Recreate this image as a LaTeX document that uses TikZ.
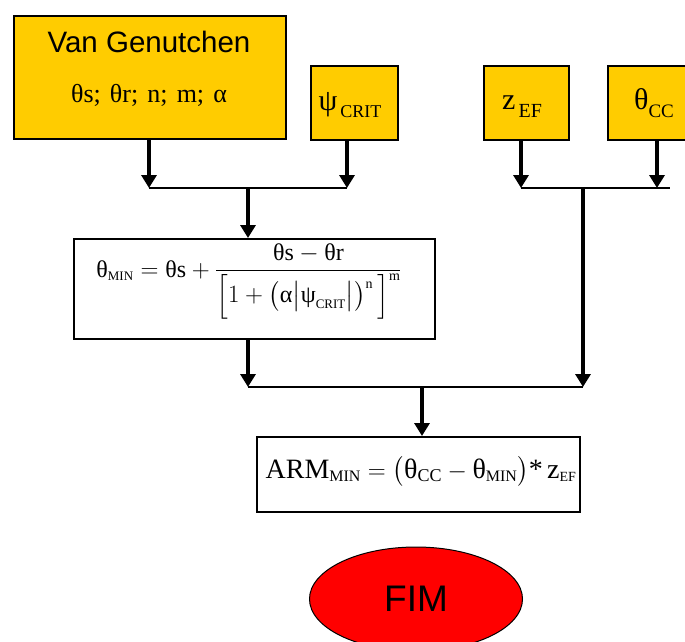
\documentclass[tikz,border=0pt]{standalone}
\usepackage{amsmath}
\usepackage{fontspec}
\setmainfont{Liberation Serif}
\newfontfamily\arialfont{Liberation Sans}
\usetikzlibrary{arrows.meta,shapes.geometric}
\definecolor{gold}{RGB}{255,204,0}
\definecolor{firered}{RGB}{255,0,0}
\newcommand\T[1]{\text{#1}}
\newcommand\fs[1]{\fontsize{#1}{#1}\selectfont}
\newcommand\sub[3]{\raisebox{-#1pt}{\fs{#2}#3}}

\begin{document}
\begin{tikzpicture}[x=1pt,y=-1pt,
  inbox/.style={draw=black,line width=1.5pt,fill=gold,inner sep=0pt,anchor=north west},
  eqbox/.style={draw=black,line width=1.5pt,fill=white,inner sep=0pt,anchor=north west},
  lbl/.style={inner sep=0pt,anchor=base},
  flow/.style={line width=3.5pt,-{Triangle[width=15pt,length=13pt]}},
  wire/.style={line width=2.5pt}]
\useasboundingbox (0,0) rectangle (685,641);
\clip (0,0) rectangle (685,641);

% input parameter boxes
\node[inbox,minimum width=272pt,minimum height=123pt] (vg) at (13,15) {};
\node[lbl] (vgname) at (149,52) {\arialfont\fs{29.5}Van Genutchen};
\node[lbl] (vgpar) at (149,102) {\fs{26}θs;\hspace{0.35em}θr;\hspace{0.35em}n;\hspace{0.35em}m;\hspace{0.35em}α};

\node[inbox,minimum width=87pt,minimum height=74pt] (psi) at (310,65) {};
\node[lbl] (psitxt) at (350,110) {\fs{30}ψ\sub{7}{18}{\,CRIT}};

\node[inbox,minimum width=85pt,minimum height=74pt] (zef) at (483,65) {};
\node[lbl] (zeftxt) at (522,109) {\fs{30}z\sub{8}{20}{\,EF}};

\node[inbox,minimum width=94pt,minimum height=74pt] (tcc) at (607,65) {};
\node[lbl] (tcctxt) at (654,109) {\fs{30}θ\sub{8}{19}{CC}};

% equation boxes
\node[eqbox,minimum width=361pt,minimum height=100pt] (eqmin) at (73,238) {};
\node[lbl] (eqmintxt) at (249,277) {\fs{24}%
  $\T{θ}_{\T{\fs{13}MIN}} = \T{θs} + \dfrac{\T{θs} - \T{θr}}%
  {\Bigl[1 + \bigl(\T{α}\bigl|\T{ψ}_{\T{\fs{13}CRIT}}\bigr|\bigr)^{\T{\fs{14}n}}\,\Bigr]^{\T{\fs{14}m}}}$};

\node[eqbox,minimum width=323pt,minimum height=75pt] (arm) at (256,436) {};
\node[lbl] (armtxt) at (421,478) {\fs{28}%
  $\T{ARM}_{\T{\fs{16}MIN}} = \bigl(\T{θ}_{\T{\fs{18}CC}} - \T{θ}_{\T{\fs{16}MIN}}\bigr)\T{*}\,\T{z}_{\T{\fs{14}EF}}$};

% end node
\node[ellipse,draw=black,line width=1pt,fill=firered,minimum width=213pt,minimum height=104pt,inner sep=0pt]
  (fim) at (416,599) {\arialfont\fs{37}FIM};

% junction points
\coordinate (ja) at (149,188);
\coordinate (jb) at (347,188);
\coordinate (jm) at (248,188);
\coordinate (ka) at (521,188);
\coordinate (kb) at (657,188);
\coordinate (kc) at (670,188);
\coordinate (km) at (583,188);
\coordinate (la) at (248,387);
\coordinate (lb) at (583,387);
\coordinate (lm) at (422,387);

% connectors
\draw[flow] (vg.south -| ja) -- (ja);
\draw[flow] (psi.south -| jb) -- (jb);
\draw[wire] (ja) -- (jb);
\draw[flow] (jm) -- (eqmin.north -| jm);

\draw[flow] (zef.south -| ka) -- (ka);
\draw[flow] (tcc.south -| kb) -- (kb);
\draw[wire] (ka) -- (kc);
\draw[flow] (km) -- (lb);

\draw[flow] (eqmin.south -| la) -- (la);
\draw[wire] (la) -- (lb);
\draw[flow] (lm) -- (arm.north -| lm);
\end{tikzpicture}
\end{document}
